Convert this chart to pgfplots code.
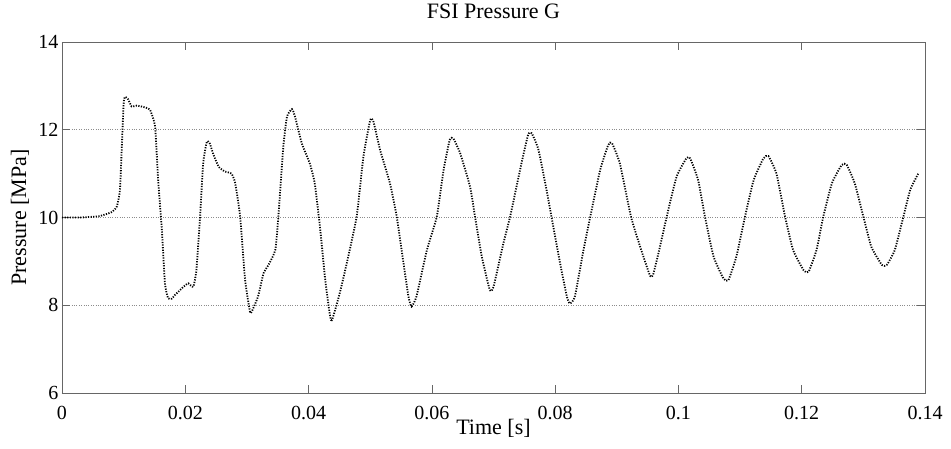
\documentclass[border=0pt]{standalone}
\usepackage{fontspec}
\setmainfont{Liberation Serif}
\usepackage{pgfplots}
\pgfplotsset{compat=1.18}
\begin{document}
\begin{tikzpicture}
\useasboundingbox (-62pt,-55pt) rectangle (889pt,393pt);
\begin{axis}[
  at={(0pt,0pt)}, anchor=origin,
  scale only axis,
  width=863pt, height=351pt,
  xmin=0, xmax=0.14, ymin=6, ymax=14,
  xtick={0,0.02,0.04,0.06,0.08,0.1,0.12,0.14},
  ytick={6,8,10,12,14},
  scaled x ticks=false,
  /pgf/number format/assume math mode=true,
  xticklabel={\pgfmathprintnumber[fixed,precision=2,assume math mode=true]{\tick}},
  yticklabel={\pgfmathprintnumber[fixed,precision=0,assume math mode=true]{\tick}},
  xticklabel style={anchor=base, yshift=-26pt},
  tick label style={font=\fontsize{20}{24}\selectfont},
  tick align=inside,
  major tick length=8pt,
  tick style={black!60, line width=0.6pt},
  axis line style={black!60, line width=0.8pt},
  ymajorgrids,
  grid style={black!45, dotted, line width=0.6pt},
  title={FSI Pressure G},
  title style={at={(axis description cs:0.5,1.0513)}, anchor=base, font=\fontsize{22}{26}\selectfont},
  xlabel={Time [s]},
  xlabel style={at={(axis description cs:0.5,-0.1177)}, anchor=base, font=\fontsize{22}{26}\selectfont},
  ylabel={Pressure [MPa]},
  ylabel style={at={(axis description cs:-0.0487,0.5)}, anchor=center, font=\fontsize{22}{26}\selectfont},
]
\addplot[black, line width=1.8pt, dash pattern=on 1.2pt off 1.4pt, smooth, tension=0.3] coordinates {
(0,10.0) (0.003,10.0) (0.006,10.03) (0.008,10.12) (0.0089,10.25) (0.0094,10.63) (0.0097,11.6) (0.0100,12.6) (0.0102,12.75) (0.0107,12.7) (0.0113,12.53) (0.0121,12.55) (0.0129,12.53) (0.0137,12.5) (0.0143,12.45) (0.0151,12.07) (0.0156,10.85) (0.0162,9.72) (0.0167,8.5) (0.0172,8.16) (0.0178,8.15) (0.0183,8.23) (0.0197,8.42) (0.0205,8.5) (0.0213,8.42) (0.0218,8.8) (0.0224,10.02) (0.0229,11.23) (0.0235,11.73) (0.0240,11.68) (0.0245,11.46) (0.0254,11.16) (0.0264,11.05) (0.0275,11.0) (0.0281,10.78) (0.0289,10.02) (0.0297,8.58) (0.0305,7.85) (0.0308,7.86) (0.0318,8.2) (0.0327,8.73) (0.0335,8.92) (0.0346,9.26) (0.0351,10.02) (0.0359,11.61) (0.0365,12.3) (0.0373,12.47) (0.0378,12.3) (0.0389,11.69) (0.0402,11.23) (0.0410,10.78) (0.0419,9.72) (0.0427,8.58) (0.0435,7.74) (0.0438,7.66) (0.0446,8.04) (0.0451,8.3) (0.0462,8.96) (0.0478,10.02) (0.0489,11.39) (0.0500,12.22) (0.0505,12.2) (0.0516,11.54) (0.0532,10.78) (0.0543,10.02) (0.0554,8.96) (0.0562,8.2) (0.0567,7.97) (0.0575,8.2) (0.0592,9.26) (0.0608,10.02) (0.0619,11.08) (0.0629,11.77) (0.0635,11.8) (0.0646,11.46) (0.0662,10.70) (0.0670,10.02) (0.0681,9.11) (0.0694,8.35) (0.0700,8.42) (0.0716,9.41) (0.0727,10.02) (0.0743,11.08) (0.0756,11.88) (0.0762,11.92) (0.0773,11.54) (0.0786,10.63) (0.0794,10.02) (0.0808,8.96) (0.0819,8.2) (0.0824,8.04) (0.0832,8.2) (0.0846,9.26) (0.0857,10.02) (0.0873,11.08) (0.0886,11.65) (0.0892,11.70) (0.0905,11.23) (0.0923,10.02) (0.0938,9.33) (0.0954,8.67) (0.0959,8.7) (0.0970,9.33) (0.0981,10.02) (0.0997,10.93) (0.1013,11.35) (0.1019,11.35) (0.1032,10.85) (0.1043,10.02) (0.1057,9.11) (0.1073,8.61) (0.1081,8.57) (0.1094,9.11) (0.1108,10.02) (0.1122,10.85) (0.1138,11.35) (0.1146,11.40) (0.1159,11.0) (0.1173,10.02) (0.1186,9.26) (0.1203,8.80) (0.1211,8.76) (0.1224,9.26) (0.1235,10.02) (0.1249,10.78) (0.1265,11.20) (0.1273,11.2) (0.1286,10.78) (0.1300,10.02) (0.1313,9.33) (0.1330,8.92) (0.1338,8.92) (0.1351,9.26) (0.1365,10.02) (0.1376,10.63) (0.1389,11.0)
};
\end{axis}
\end{tikzpicture}
\end{document}
